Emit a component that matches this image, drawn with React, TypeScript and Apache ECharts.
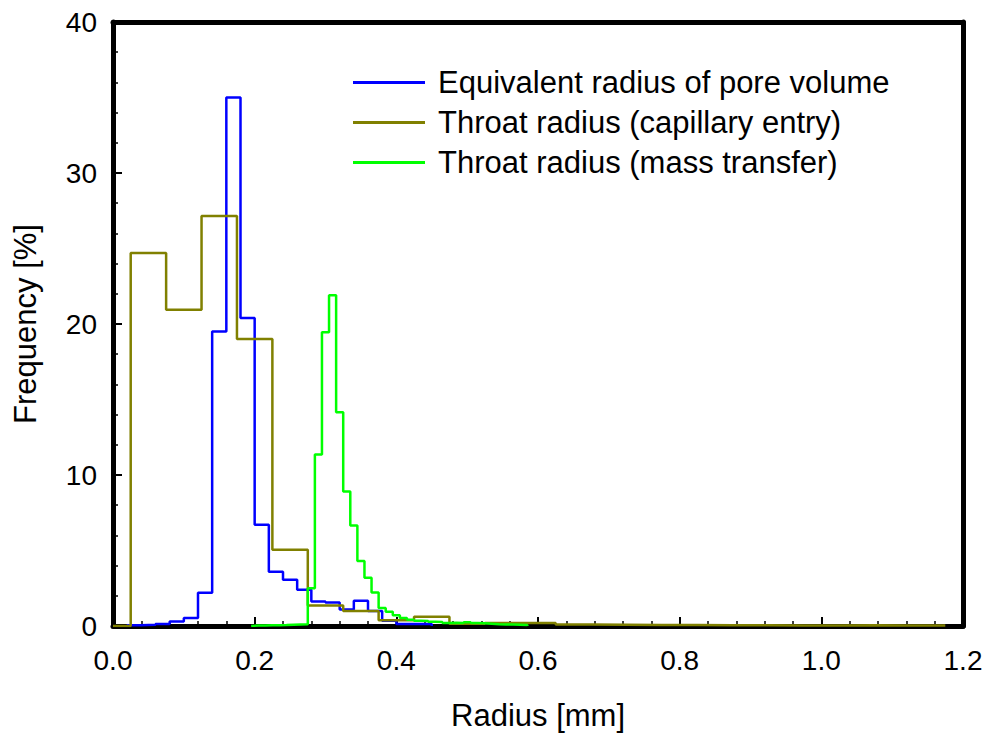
import React, { useEffect, useRef } from "react";
import * as echarts from "echarts";

const seriesNames = [
  "Equivalent radius of pore volume",
  "Throat radius (capillary entry)",
  "Throat radius (mass transfer)",
];
const seriesColors = ["#0000ff", "#808000", "#00ff00"];

// Equivalent radius of pore volume: bin edges (n+1) and frequencies (n)
const poreEdges = [
  0.02, 0.04, 0.06, 0.08, 0.1, 0.12, 0.14, 0.16, 0.18, 0.2, 0.22, 0.24, 0.26,
  0.28, 0.3, 0.32, 0.34, 0.36, 0.38, 0.4, 0.42, 0.45,
];
const poreValues = [
  0.05, 0.08, 0.13, 0.3, 0.53, 2.2, 19.5, 35.0, 20.4, 6.7, 3.6, 3.06, 2.4,
  1.63, 1.56, 1.1, 1.67, 1.0, 0.35, 0.13, 0.13,
];

// Throat radius (capillary entry)
const capEdges = [
  0, 0.025, 0.075, 0.125, 0.175, 0.225, 0.275, 0.325, 0.375, 0.425, 0.475,
  0.525, 0.575, 0.625, 0.675, 0.725, 0.775, 0.825, 0.875, 0.925, 0.975, 1.025,
  1.075, 1.125, 1.175,
];
const capValues = [
  0, 24.7, 20.95, 27.15, 19.0, 5.05, 1.35, 1.0, 0.38, 0.62, 0.15, 0.2, 0.2,
  0.1, 0.08, 0.06, 0.06, 0.05, 0.05, 0.04, 0.04, 0.05, 0.04, 0.04,
];

// Throat radius (mass transfer)
const massEdges = [
  0.195, 0.205, 0.215, 0.225, 0.235, 0.245, 0.255, 0.265, 0.275, 0.285, 0.295,
  0.305, 0.315, 0.325, 0.335, 0.345, 0.355, 0.365, 0.375, 0.385, 0.395, 0.405,
  0.415, 0.425, 0.435, 0.445, 0.455, 0.465, 0.475, 0.485, 0.495, 0.505, 0.515,
  0.525, 0.535, 0.545, 0.555, 0.565, 0.575, 0.585,
];
const massValues = [
  0.03, 0.03, 0.05, 0.05, 0.06, 0.08, 0.1, 0.12, 2.5, 11.35, 19.45, 21.9,
  14.15, 8.9, 6.65, 4.3, 3.2, 2.22, 1.2, 0.95, 0.72, 0.53, 0.42, 0.35, 0.33,
  0.28, 0.26, 0.2, 0.22, 0.2, 0.25, 0.2, 0.18, 0.15, 0.12, 0.1, 0.1, 0.08,
  0.06,
];

const xTicks = [0, 0.2, 0.4, 0.6, 0.8, 1.0, 1.2];
const yTicks = [0, 10, 20, 30, 40];

function stepData(edges: number[], values: number[]): number[][] {
  const out: number[][] = [[edges[0], 0]];
  for (let i = 0; i < values.length; i++) out.push([edges[i], values[i]]);
  out.push([edges[edges.length - 1], 0]);
  return out;
}

const FONT = "'Liberation Sans', Arial, sans-serif";

export default function App() {
  const ref = useRef<HTMLDivElement>(null);
  useEffect(() => {
    if (!ref.current) return;
    const chart = echarts.init(ref.current, undefined, { renderer: "svg" });
    const datasets = [
      stepData(poreEdges, poreValues),
      stepData(capEdges, capValues),
      stepData(massEdges, massValues),
    ];
    const frameAxis = {
      axisLine: { show: true, onZero: false, lineStyle: { color: "#000", width: 5 } },
      axisTick: { show: false },
      axisLabel: { show: false },
      splitLine: { show: false },
    };
    chart.setOption({
      animation: false,
      backgroundColor: "#fff",
      textStyle: { fontFamily: FONT, color: "#000" },
      grid: { left: 113, right: 26, top: 22, bottom: 105, containLabel: false },
      legend: {
        orient: "vertical",
        left: 348,
        top: 62,
        icon: "rect",
        itemWidth: 72,
        itemHeight: 3,
        itemGap: 9,
        data: seriesNames,
        textStyle: { fontFamily: FONT, fontSize: 31, color: "#000", padding: [0, 0, 0, 8] },
      },
      xAxis: [
        {
          type: "value",
          min: xTicks[0],
          max: xTicks[xTicks.length - 1],
          interval: 0.2,
          position: "bottom",
          name: "Radius [mm]",
          nameLocation: "middle",
          nameGap: 74,
          nameTextStyle: { fontFamily: FONT, fontSize: 31, color: "#000" },
          axisLine: { show: true, onZero: false, lineStyle: { color: "#000", width: 5 } },
          axisTick: { show: true, inside: true, length: 9, lineStyle: { color: "#000", width: 2 } },
          minorTick: { show: true, splitNumber: 5, length: 5, lineStyle: { color: "#000", width: 1.5 } },
          axisLabel: {
            fontFamily: FONT,
            fontSize: 28,
            color: "#000",
            margin: 20,
            formatter: (v: number) => v.toFixed(1),
          },
          splitLine: { show: false },
        },
        { type: "value", min: 0, max: 1.2, position: "top", ...frameAxis },
      ],
      yAxis: [
        {
          type: "value",
          min: yTicks[0],
          max: yTicks[yTicks.length - 1],
          interval: 10,
          position: "left",
          name: "Frequency [%]",
          nameLocation: "middle",
          nameGap: 72,
          nameTextStyle: { fontFamily: FONT, fontSize: 31, color: "#000" },
          axisLine: { show: true, onZero: false, lineStyle: { color: "#000", width: 5 } },
          axisTick: { show: true, inside: true, length: 9, lineStyle: { color: "#000", width: 2 } },
          minorTick: { show: true, splitNumber: 5, length: 5, lineStyle: { color: "#000", width: 1.5 } },
          axisLabel: { fontFamily: FONT, fontSize: 28, color: "#000", margin: 16 },
          splitLine: { show: false },
        },
        { type: "value", min: 0, max: 40, position: "right", ...frameAxis },
      ],
      series: datasets.map((d, i) => ({
        name: seriesNames[i],
        type: "line",
        step: "end",
        data: d,
        symbol: "none",
        showSymbol: false,
        color: seriesColors[i],
        lineStyle: { color: seriesColors[i], width: 2.5 },
        z: 3 + i,
        xAxisIndex: 0,
        yAxisIndex: 0,
      })),
    });
    return () => chart.dispose();
  }, []);
  return (
    <div
      ref={ref}
      style={{ position: "fixed", left: 0, top: 0, width: 989, height: 736, background: "#fff" }}
    />
  );
}
